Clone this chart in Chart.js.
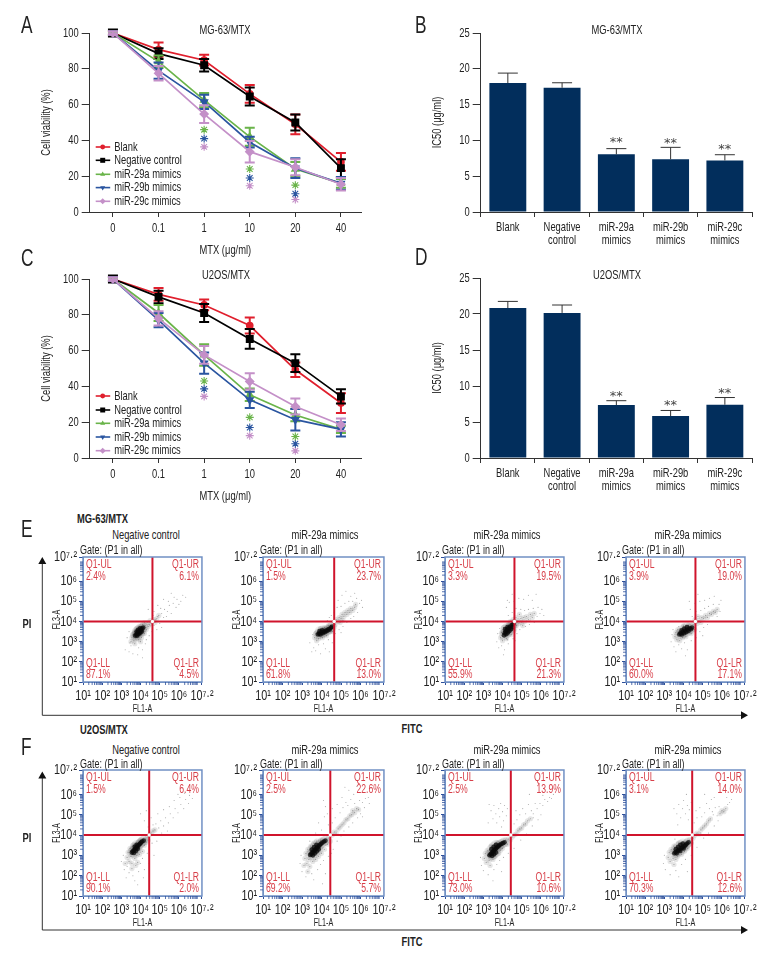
<!DOCTYPE html>
<html>
<head>
<meta charset="utf-8">
<script src="https://cdn.jsdelivr.net/npm/chart.js@4"></script>
<style>
  html, body { margin: 0; padding: 0; background: #fff; }
  #page { position: relative; width: 780px; height: 972px; overflow: hidden; }
  #page canvas { position: absolute; }
  #page svg { position: absolute; left: 0; top: 0; }
  .txt { position: absolute; white-space: nowrap; color: #222; font-family: "Liberation Sans", sans-serif; transform: translateY(-50%) scaleX(0.72); transform-origin: left center; line-height: 1; }
</style>
</head>
<body>
<div id="page">
  <svg width="780" height="972">
    <path d="M42.3 562V715.3H742M42.3 777V930H742" fill="none" stroke="#333" stroke-width="1"/>
    <path d="M42.3 557l-4 7h8zM748 715.3l-7 -4v8zM42.3 771.5l-4 7h8zM748 930l-7 -4v8z" fill="#111"/>
  </svg>
</div>
<script>
const doseLabels = ["0", "0.1", "1", "10", "20", "40"];
const groupNames = ["Blank", "Negative control", "miR-29a mimics", "miR-29b mimics", "miR-29c mimics"];
const barLabels = ["Blank", ["Negative", "control"], ["miR-29a", "mimics"], ["miR-29b", "mimics"], ["miR-29c", "mimics"]];

// panel A
const aBlank = [100, 90.7, 84.8, 66, 49, 28];
const aNeg = [100, 88.5, 82, 64.5, 50, 24.5];
const a29a = [100, 84, 62.5, 42, 24, 16];
const a29b = [100, 79, 61.5, 39, 24.5, 16];
const a29c = [100, 77.5, 54.7, 33.7, 25, 15.5];
const aBlankErr = [1, 4, 3, 5, 5.5, 5];
const aNegErr = [2, 3, 3.5, 5, 4.5, 5];
const a29aErr = [1, 3.5, 4, 5, 4, 2.5];
const a29bErr = [1, 4.5, 4, 3, 5.5, 3.5];
const a29cErr = [1, 4, 5, 6, 4.5, 3.5];
const aStarA = [46, 24, 15];
const aStarB = [41, 19, 10.2];
const aStarC = [36.4, 14.7, 7];

// panel C
const cBlank = [100, 91.4, 85.5, 74, 49.3, 30.7];
const cNeg = [100, 90, 81, 66.5, 53, 34.4];
const c29a = [100, 81, 57.6, 35.3, 24, 16];
const c29b = [100, 77, 53, 32.5, 21.4, 16];
const c29c = [100, 78, 57.6, 42.8, 28.8, 18.6];
const cBlankErr = [1, 3.6, 3, 4.5, 4, 5.5];
const cNegErr = [2, 3.5, 5, 5.5, 5, 4];
const c29aErr = [1, 4.5, 6, 3.5, 3.5, 2];
const c29bErr = [1, 4, 6, 4.5, 6, 4];
const c29cErr = [1, 4, 5, 4.5, 4.5, 3.5];
const cStarA = [43, 22.7, 12];
const cStarB = [38.6, 17, 8];
const cStarC = [34.4, 12.5, 4];
const starDoses = [2, 3, 4];

// panels B and D
const bValues = [18, 17.35, 8.05, 7.36, 7.2];
const bTops = [19.4, 18.05, 8.85, 9.03, 8];
const bStars = [null, null, 10.1, 10, 9.1];
const dValues = [20.83, 20.15, 7.36, 5.83, 7.4];
const dTops = [21.75, 21.25, 7.96, 6.6, 8.4];
const dStars = [null, null, 8.9, 7.7, 9.4];

// flow panels, values are log10 of the FL1-A / FL3-A reading
const flowTicks = [1, 2, 3, 4, 5, 6, 7.2];
const flowTickLabels = ["10¹", "10²", "10³", "10⁴", "10⁵", "10⁶", "10⁷·²"];
const quadNames = ["Q1-UL", "Q1-UR", "Q1-LL", "Q1-LR"];
const flowTitles = ["Negative control", "miR-29a mimics", "miR-29a mimics", "miR-29a mimics"];

const e1Pct = ["2.4%", "6.1%", "87.1%", "4.5%"];
const e2Pct = ["1.5%", "23.7%", "61.8%", "13.0%"];
const e3Pct = ["3.3%", "19.5%", "55.9%", "21.3%"];
const e4Pct = ["3.9%", "19.0%", "60.0%", "17.1%"];
const f1Pct = ["1.5%", "6.4%", "90.1%", "2.0%"];
const f2Pct = ["2.5%", "22.6%", "69.2%", "5.7%"];
const f3Pct = ["2.5%", "13.9%", "73.0%", "10.6%"];
const f4Pct = ["3.1%", "14.0%", "70.3%", "12.6%"];
const eGateX = [4.62, 4.65, 4.62, 4.62];
const fGateX = [4.45, 4.45, 4.43, 4.45];

const e1Core = [[3.72,3.3],[3.78,3.36],[3.84,3.42],[3.9,3.48],[3.96,3.52],[4.02,3.58],[4.08,3.64],[4.14,3.7],[3.82,3.3],[3.9,3.38],[3.98,3.44],[4.06,3.5],[3.8,3.5],[3.88,3.58],[3.98,3.66]];
const e1Mid = [[3.55,3.2],[3.6,3.35],[3.65,3.05],[3.7,3.5],[3.75,3.15],[3.8,3.65],[3.9,3.1],[3.95,3.75],[4.05,3.2],[4.1,3.85],[4.2,3.4],[4.25,3.8],[4.3,3.6],[4.35,3.95],[4.4,3.75],[4.45,3.85],[3.5,3],[4,3],[3.7,2.9],[4.2,3.95],[4.5,4.05],[4.55,3.9],[4.7,4.1],[4.85,4.15],[4.95,4.3],[4.75,3.95]];
const e1Sparse = [[3.2,2.6],[3.4,2.5],[3.5,2.8],[3.6,2.4],[3.9,2.7],[4.1,2.6],[3.3,3.2],[3.4,3.5],[4.1,2.2],[4.3,3.1],[4.6,3.5],[4.7,3.8],[4.8,4.1],[4.65,4.3],[4.9,4.25],[5,3.9],[5.1,4.4],[5.2,4.2],[5.25,4.6],[5.4,4.5],[5.5,4.8],[5.6,4.4],[5.7,4.9],[5.85,4.7],[5.9,5.1],[6.1,5],[6.2,5.3],[6.35,5.2],[4.4,4.6],[4.9,4.8],[5.2,5.1],[5.6,5.4],[4.7,4.5],[5.05,4.65],[5.35,4.25],[5.45,5],[5.75,5.2],[6,4.85],[3.85,2.35],[4.25,2.9],[3.45,2.95],[4.45,3.3],[5.1,3.7],[4.85,3.6]];

const e2Core = [[3.82,3.36],[3.88,3.4],[3.94,3.36],[4,3.46],[4.06,3.42],[4.12,3.5],[4.18,3.48],[4.24,3.56],[4.3,3.54],[4.36,3.62],[4.42,3.6],[4.48,3.7],[4.54,3.74],[3.9,3.52],[4.04,3.56]];
const e2Mid = [[3.65,3.2],[3.7,3.4],[3.75,3.05],[3.85,3.15],[3.95,3.65],[4.05,3.2],[4.15,3.7],[4.25,3.3],[4.35,3.8],[4.55,3.5],[4.6,3.95],[4.7,3.85],[4.75,4.1],[4.85,4],[4.9,4.2],[5,4.15],[5.05,4.35],[5.15,4.25],[5.2,4.45],[5.3,4.35],[5.35,4.55],[5.45,4.45],[5.5,4.65],[5.6,4.55],[5.7,4.7],[5.75,4.85],[4.95,3.95],[5.1,4.05]];
const e2Sparse = [[3.4,2.95],[3.55,3.35],[3.6,2.7],[3.7,2.55],[3.85,2.85],[3.95,2.4],[4.1,2.9],[4.2,2.65],[4.35,3.1],[3.5,2.5],[4.4,4.2],[4.3,4.05],[4.5,4.3],[4.65,4.45],[4.8,4.7],[5,4.75],[5.2,4.9],[5.1,3.75],[5.3,3.95],[5.5,4.15],[5.65,4.25],[5.85,4.45],[5.95,4.9],[6.05,5.05],[5.8,5.15],[5.5,5.25],[5.25,5.5],[5.05,5.3],[4.85,5.05],[6.1,4.7],[4.7,3.4],[4.9,3.6],[5.4,5],[5.6,5],[4.55,2.95],[4.4,2.5],[5.7,5.4],[5,3.45]];

const e3Core = [[4.08,3.32],[4.12,3.42],[4.16,3.5],[4.2,3.38],[4.24,3.58],[4.28,3.46],[4.32,3.66],[4.36,3.54],[4.4,3.74],[4.44,3.62],[4.48,3.82],[4.14,3.62],[4.26,3.72],[4.52,3.72],[4.56,3.88]];
const e3Mid = [[3.9,3.2],[3.95,3.45],[4,3.05],[4.05,3.7],[4.2,3.15],[4.3,3.85],[4.45,3.35],[4.6,3.55],[4.65,3.95],[4.72,3.8],[4.8,4.05],[4.85,3.9],[4.95,4.15],[5,3.95],[5.1,4.2],[5.15,4],[5.25,4.25],[5.35,4.1],[5.45,4.35],[5.55,4.2],[5.65,4.4],[4.55,4.1],[4.7,4.2],[4.88,4.35],[5.05,3.8],[4.4,4]];
const e3Sparse = [[3.7,3],[3.75,3.4],[3.8,2.7],[3.95,2.8],[4.1,2.6],[4.3,2.9],[4.25,3.1],[4.55,3.15],[4.75,3.4],[4.9,3.6],[5.2,3.75],[5.4,3.85],[5.65,3.95],[5.8,4.25],[5.95,4.4],[6.05,4.6],[5.85,4.7],[5.6,4.65],[5.35,4.6],[5.15,4.55],[4.95,4.6],[4.7,4.65],[4.5,4.45],[4.3,4.3],[4.2,4.7],[4.35,4.95],[4.6,5],[4.85,5.15],[5.1,5.1],[5.35,5.3],[4.5,5.35],[4.25,5.05],[5.55,5.05],[6.15,4.3],[4.05,2.35],[3.85,3.65],[5.75,5.35],[4.65,3.05]];

const e4Core = [[3.78,3.36],[3.84,3.42],[3.9,3.36],[3.96,3.48],[4.02,3.42],[4.08,3.54],[4.14,3.48],[4.2,3.6],[4.26,3.54],[4.32,3.66],[4.38,3.62],[4.44,3.7],[3.9,3.56],[4.04,3.64],[4.18,3.72]];
const e4Mid = [[3.55,3.25],[3.6,3.45],[3.65,3.1],[3.7,3.6],[3.8,3.05],[3.95,3.2],[4,3.78],[4.12,3.25],[4.25,3.82],[4.4,3.4],[4.5,3.85],[4.58,3.6],[4.7,3.9],[4.8,4.05],[4.9,3.95],[4.95,4.2],[5.05,4.15],[5.15,4.3],[5.25,4.2],[5.35,4.4],[5.45,4.35],[5.55,4.5],[5.65,4.45],[5.75,4.6],[4.6,4.1],[4.75,4.25]];
const e4Sparse = [[3.35,3],[3.4,3.35],[3.5,2.75],[3.6,2.5],[3.75,2.85],[3.9,2.65],[4.05,2.95],[4.2,2.6],[4.4,3.05],[3.45,3.6],[4.65,3.2],[4.85,3.5],[5.05,3.7],[5.25,3.85],[5.5,4],[5.75,4.25],[5.9,4.5],[5.85,4.85],[5.55,4.85],[5.3,4.75],[5.1,4.65],[4.9,4.55],[4.65,4.5],[4.45,4.25],[4.35,4.6],[4.6,4.9],[4.85,5],[5.1,5.05],[5.35,5.15],[5.6,5.25],[4.3,5],[4.75,5.35],[4.1,2.3],[3.75,3.75],[5.95,5.05],[5,3.3]];

const f1Core = [[3.55,3.14],[3.6,3.2],[3.66,3.26],[3.72,3.32],[3.78,3.38],[3.84,3.44],[3.9,3.5],[3.96,3.56],[4.02,3.62],[4.08,3.68],[4.16,3.72],[3.65,3.12],[3.75,3.22],[3.85,3.32],[3.7,3.42],[3.8,3.52]];
const f1Mid = [[3.3,2.9],[3.35,3.15],[3.4,2.7],[3.45,3.35],[3.5,2.95],[3.55,2.6],[3.62,3.5],[3.7,2.85],[3.8,3],[3.85,2.65],[3.9,3.65],[3.95,3.05],[4,3.75],[4.1,3.2],[4.2,3.5],[4.25,3.8],[4.3,3.65],[4.35,3.9],[4.4,3.75],[3.2,2.6],[3.55,2.35],[3.75,2.5],[4.45,4],[4.55,4.1],[4.65,4.2],[4.75,4.25]];
const f1Sparse = [[3.1,3],[3,2.7],[3.15,2.3],[3.3,2.45],[3.4,2.15],[3.6,2],[3.7,1.75],[3.9,2.2],[4,2.6],[4.1,2.85],[4.2,2.3],[4.35,3.1],[4.15,1.9],[3.85,1.55],[4.6,3.6],[4.85,3.7],[4.65,4.5],[4.4,4.4],[4.2,4.7],[4,5.05],[4.3,5.2],[4.55,4.85],[4.8,4.55],[4.95,4.35],[5.05,4.7],[5.2,4.45],[5.3,4.85],[5.45,4.6],[5.55,5.05],[5.7,4.85],[5.8,5.3],[5.95,5.1],[6.1,5.5],[6.25,5.3],[6.35,5.75],[6.5,5.55],[6.55,5.95],[6.7,5.8],[6.05,5.85],[5.75,5.7],[5.5,5.4],[5.2,5.25],[4.9,5.05],[6.3,6.05],[5.95,6],[5.1,4.1],[5.4,4.2],[3.25,1.9],[4.45,2.6],[4.7,3]];

const f2Core = [[3.42,3.02],[3.48,3.08],[3.54,3.14],[3.6,3.2],[3.66,3.26],[3.72,3.32],[3.78,3.38],[3.84,3.44],[3.9,3.5],[3.96,3.56],[4.04,3.62],[4.12,3.68],[4.2,3.72],[3.55,3],[3.65,3.1],[3.75,3.2],[3.85,3.3],[3.5,3.28],[3.62,3.4],[3.74,3.52]];
const f2Mid = [[3.15,2.85],[3.2,3.1],[3.25,2.6],[3.3,3.3],[3.35,2.8],[3.4,2.45],[3.45,3.45],[3.55,2.7],[3.6,3.6],[3.7,2.8],[3.75,3.7],[3.85,2.95],[3.95,3.75],[4,3.1],[4.15,3.3],[4.3,3.55],[4.35,3.85],[4.45,3.7],[3.1,2.5],[3.3,2.2],[4.55,4],[4.65,4.15],[4.75,4.1],[4.85,4.3],[4.95,4.4],[5.05,4.5],[5.15,4.6],[5.25,4.75],[5.35,4.8],[5.45,4.95],[5.55,5],[5.6,5.2],[5.7,5.1],[5.8,5.3],[5.9,5.25]];
const f2Sparse = [[2.95,3],[2.9,2.6],[3,2.2],[3.2,1.95],[3.5,2.1],[3.6,1.8],[3.8,2.3],[3.95,2.55],[4.1,2.75],[4.2,2.1],[4.35,2.95],[4.05,1.6],[3.4,3.7],[3.7,4.1],[3.85,4.6],[4,4.25],[4.15,4.9],[4.2,5.4],[4.35,4.5],[4.3,5.05],[4.1,5.7],[4.55,4.6],[4.7,4.85],[4.55,5.3],[4.8,5.5],[4.95,5.1],[5.1,5.35],[5.05,5.85],[5.25,5.6],[5.4,6.2],[5.5,5.75],[5.65,6],[5.2,6.35],[5.8,6.4],[5.95,5.7],[6.1,5.6],[6.25,5.8],[6.4,5.85],[6.2,5.35],[6.45,5.55],[4.8,3.7],[5,3.95],[5.15,4.2],[5.4,4.4],[5.6,4.6],[5.85,4.85],[6,5.05],[6.1,4.9],[4.6,3.3],[5.35,5.45],[4.5,3.1],[5.7,5.55]];

const f3Core = [[3.32,3],[3.38,3.06],[3.44,3.12],[3.5,3.18],[3.56,3.24],[3.62,3.3],[3.68,3.36],[3.74,3.42],[3.8,3.46],[3.86,3.52],[3.94,3.56],[4.02,3.6],[4.1,3.64],[3.45,2.98],[3.55,3.06],[3.65,3.14],[3.42,3.3],[3.54,3.42],[3.66,3.52]];
const f3Mid = [[3.05,2.85],[3.1,3.1],[3.15,2.65],[3.2,3.25],[3.3,2.75],[3.35,2.5],[3.4,3.45],[3.5,2.8],[3.6,2.95],[3.7,3.62],[3.8,3.1],[3.9,3.25],[4,3.35],[4.15,3.75],[4.25,3.55],[4.3,3.8],[4.4,3.75],[4.5,3.9],[4.6,4],[4.7,4.05],[4.8,4.2],[4.9,4.3],[5,4.35],[5.1,4.5],[5.2,4.55],[5.3,4.7],[5.45,4.8]];
const f3Sparse = [[2.85,2.9],[2.9,2.5],[3,2.25],[3.25,2.05],[3.55,2.3],[3.7,2.55],[3.85,2.75],[4.05,2.9],[3.95,2.2],[4.3,3.1],[3.5,1.75],[3.25,4.6],[3.4,5.2],[3.5,4.8],[3.55,5.45],[3.65,5.05],[3.7,4.6],[3.8,5.3],[3.85,4.9],[3.9,5.55],[4,5.15],[4.05,4.7],[4.1,5.45],[4.2,4.95],[4.25,5.3],[3.3,5.5],[3.95,4.4],[4.6,4.55],[4.75,4.75],[4.7,5.2],[4.9,5],[5.05,5.3],[5.2,5.05],[5.35,5.5],[5.5,5.2],[5.6,5.05],[5.7,5.55],[5.8,5.3],[5.95,5.55],[6.1,5.45],[6.2,5.75],[6.35,5.65],[6.45,5.85],[6.55,5.8],[6.65,6],[6.1,5.95],[5.4,6],[4.95,3.75],[5.25,4.05],[5.55,4.45],[5.85,4.75],[6,5],[4.6,3.35],[5.6,4.85]];

const f4Core = [[3.52,3.1],[3.58,3.16],[3.64,3.1],[3.7,3.22],[3.76,3.28],[3.82,3.22],[3.88,3.34],[3.94,3.4],[4,3.34],[4.06,3.46],[4.12,3.52],[4.18,3.58],[4.26,3.64],[3.6,3.3],[3.72,3.42],[3.84,3.52],[3.96,3.58]];
const f4Mid = [[3.2,2.9],[3.25,3.15],[3.3,2.7],[3.35,3.3],[3.45,2.85],[3.5,2.55],[3.5,3.45],[3.6,2.8],[3.7,2.95],[3.75,3.6],[3.9,3.05],[4.05,3.2],[4.2,3.35],[4.3,3.75],[4.4,3.6],[4.5,3.85],[4.6,4],[4.7,4.1],[4.8,4.05],[4.9,4.25],[5,4.35],[5.1,4.45],[5.2,4.55],[5.3,4.7],[5.4,4.8],[5.9,5.05],[6,5.2],[6.1,5.15],[6.2,5.3]];
const f4Sparse = [[3,3],[2.95,2.6],[3.05,2.3],[3.3,2.05],[3.6,2.25],[3.75,1.95],[3.9,2.55],[4.1,2.8],[4.2,2.2],[4.4,3],[3.55,3.8],[3.7,4.5],[3.5,5.3],[3.65,5.05],[3.75,5.5],[3.85,4.85],[3.95,5.3],[4,5.7],[4.1,5.05],[4.2,5.45],[4.25,4.75],[4.3,5.25],[4.4,5.6],[4.15,6],[4.55,4.6],[4.7,4.85],[4.65,5.2],[4.85,5.35],[4.95,4.9],[5.1,5.1],[5.2,5.55],[5.35,5.3],[5.5,5.15],[5.55,5],[5.65,5.35],[5.75,4.95],[5.85,5.4],[6.3,5.5],[6.4,5.6],[6.5,5.75],[6.25,5.85],[5.6,5.85],[5.05,3.85],[5.3,4.1],[5.6,4.45],[5.8,4.7],[4.7,3.4],[5.45,5.75],[5.1,6],[4.9,4.1]];

const fontFamily = '"Liberation Sans", sans-serif';
const narrowScale = 0.72;
const inkColor = "#333";
const groupColors = ["#e01f2d", "#000000", "#6ab44a", "#2a55a0", "#c490c8"];
const groupMarks = [
  { pointStyle: "circle", radius: 3, rotation: 0 },
  { pointStyle: "rect", radius: 4.4, rotation: 0 },
  { pointStyle: "triangle", radius: 3.6, rotation: 0 },
  { pointStyle: "triangle", radius: 3.6, rotation: 180 },
  { pointStyle: "rectRot", radius: 3.8, rotation: 0 },
];

const page = document.getElementById("page");

const addText = function (text, x, y, size, opts = {}) {
  const el = document.createElement("div");
  el.className = "txt";
  el.textContent = text;
  el.style.left = `${x}px`;
  el.style.top = `${y}px`;
  el.style.fontSize = `${size}px`;
  if (opts.bold) el.style.fontWeight = "bold";
  if (opts.center) {
    el.style.transform = `translate(-50%, -50%) scaleX(${narrowScale})`;
    el.style.transformOrigin = "center";
  }
  page.appendChild(el);
};

// puts a canvas so that the chart area lands on the given page box
const makeCanvas = function (left, top, right, bottom, m) {
  const c = document.createElement("canvas");
  c.width = right - left + m.l + m.r;
  c.height = bottom - top + m.t + m.b;
  c.style.left = `${left - m.l}px`;
  c.style.top = `${top - m.t}px`;
  c.style.width = `${c.width}px`;
  c.style.height = `${c.height}px`;
  page.appendChild(c);
  // the reference type is condensed and no condensed face is installed
  const ctx = c.getContext("2d");
  const rawText = ctx.fillText.bind(ctx);
  ctx.rawText = rawText;
  ctx.fillText = function (text, x, y) {
    ctx.save();
    ctx.translate(x, y);
    ctx.scale(narrowScale, 1);
    rawText(text, 0, 0);
    ctx.restore();
  };
  return c;
};

const errorBars = {
  id: "errorBars",
  afterDatasetDraw(chart, args) {
    const ds = chart.data.datasets[args.index];
    if (!ds.errs && !ds.tops) return;
    const ctx = chart.ctx;
    const y = chart.scales.y;
    ctx.save();
    ctx.strokeStyle = ds.errs ? ds.borderColor : inkColor;
    ctx.lineWidth = ds.errs ? 2 : 1;
    args.meta.data.forEach((el, i) => {
      const hi = y.getPixelForValue(ds.errs ? ds.data[i].y + ds.errs[i] : ds.tops[i]);
      const lo = ds.errs ? y.getPixelForValue(ds.data[i].y - ds.errs[i]) : el.y;
      const cap = ds.errs ? 5 : 10;
      ctx.beginPath();
      ctx.moveTo(el.x, lo);
      ctx.lineTo(el.x, hi);
      ctx.moveTo(el.x - cap, hi);
      ctx.lineTo(el.x + cap, hi);
      if (ds.errs) {
        ctx.moveTo(el.x - cap, lo);
        ctx.lineTo(el.x + cap, lo);
      }
      ctx.stroke();
    });
    ctx.restore();
  },
};

const groupLegend = {
  id: "groupLegend",
  afterDraw(chart, args, opts) {
    const ctx = chart.ctx;
    const area = chart.chartArea;
    ctx.save();
    ctx.font = `13px ${fontFamily}`;
    ctx.textBaseline = "middle";
    groupNames.forEach((name, i) => {
      const y = area.top + opts.rows[i];
      ctx.strokeStyle = groupColors[i];
      ctx.fillStyle = groupColors[i];
      ctx.lineWidth = 1.6;
      ctx.beginPath();
      ctx.moveTo(area.left + 6, y);
      ctx.lineTo(area.left + 20.5, y);
      ctx.stroke();
      Chart.helpers.drawPoint(ctx, { pointStyle: groupMarks[i].pointStyle, radius: groupMarks[i].radius * 0.8, rotation: groupMarks[i].rotation }, area.left + 13, y);
      ctx.fillStyle = "#222";
      ctx.fillText(name, area.left + 24.5, y);
    });
    ctx.restore();
  },
};

const doubleStars = {
  id: "doubleStars",
  afterDraw(chart, args, opts) {
    const ctx = chart.ctx;
    const meta = chart.getDatasetMeta(0);
    ctx.save();
    ctx.font = `13px "DejaVu Sans", sans-serif`;
    ctx.fillStyle = "#444";
    ctx.textAlign = "center";
    ctx.textBaseline = "middle";
    opts.values.forEach((v, i) => {
      if (v === null) return;
      ctx.rawText("**", meta.data[i].x, chart.scales.y.getPixelForValue(v) + 3);
    });
    ctx.restore();
  },
};

const flowDecor = {
  id: "flowDecor",
  afterDraw(chart, args, opts) {
    const ctx = chart.ctx;
    const a = chart.chartArea;
    const { x, y } = chart.scales;
    ctx.save();
    ctx.strokeStyle = "#7090c4";
    ctx.lineWidth = 1.5;
    ctx.strokeRect(a.left, a.top, a.right - a.left, a.bottom - a.top);
    // minor log ticks
    ctx.strokeStyle = "#2d4f9a";
    ctx.lineWidth = 0.8;
    ctx.beginPath();
    for (let d = 1; d < 7.2; d++) {
      for (let k = 2; k < 10; k++) {
        const v = d + Math.log10(k);
        if (v > 7.2) continue;
        ctx.moveTo(x.getPixelForValue(v), a.bottom);
        ctx.lineTo(x.getPixelForValue(v), a.bottom + 3);
        ctx.moveTo(a.left, y.getPixelForValue(v));
        ctx.lineTo(a.left - 3, y.getPixelForValue(v));
      }
    }
    ctx.stroke();
    ctx.fillStyle = "#d8404a";
    ctx.font = `12px ${fontFamily}`;
    ctx.textBaseline = "middle";
    ctx.textAlign = "left";
    ctx.fillText(quadNames[0], a.left + 3, a.top + 8);
    ctx.fillText(opts.pct[0], a.left + 3, a.top + 19.5);
    ctx.fillText(quadNames[2], a.left + 3, a.bottom - 18.5);
    ctx.fillText(opts.pct[2], a.left + 3, a.bottom - 7);
    ctx.textAlign = "right";
    ctx.fillText(quadNames[1], a.right - 3, a.top + 8);
    ctx.fillText(opts.pct[1], a.right - 3, a.top + 19.5);
    ctx.fillText(quadNames[3], a.right - 3, a.bottom - 18.5);
    ctx.fillText(opts.pct[3], a.right - 3, a.bottom - 7);
    ctx.restore();
  },
};

const lineMargins = { l: 59.7, t: 12, r: 20, b: 48 };

const baseY = function (max, step, title, m) {
  return {
    min: 0,
    max,
    afterFit: (s) => { s.width = m.l; },
    ticks: { stepSize: step, padding: 3, color: "#222", font: { family: fontFamily, size: 13 } },
    grid: { drawOnChartArea: false, tickLength: 8, tickColor: inkColor },
    border: { color: inkColor },
    title: { display: true, text: title, color: "#222", padding: { top: 9, bottom: 0 }, font: { family: fontFamily, size: 13 } },
  };
};

const drawViability = function (box, series, errs, stars, rows) {
  const canvas = makeCanvas(box[0], box[1], box[2], box[3], lineMargins);
  const lines = series.map((vals, i) => ({
    label: groupNames[i],
    data: vals.map((v, k) => ({ x: k, y: v })),
    errs: errs[i],
    borderColor: groupColors[i],
    backgroundColor: groupColors[i],
    borderWidth: 1.7,
    pointStyle: groupMarks[i].pointStyle,
    pointRadius: groupMarks[i].radius,
    pointRotation: groupMarks[i].rotation,
    order: 10 - i,
  }));
  const starSets = stars.map((vals, i) => ({
    data: vals.map((v, k) => ({ x: starDoses[k], y: v })),
    showLine: false,
    borderColor: groupColors[i + 2],
    backgroundColor: groupColors[i + 2],
    borderWidth: 1.1,
    pointStyle: "star",
    pointRadius: 4,
    order: 0,
  }));
  new Chart(canvas, {
    type: "line",
    data: { datasets: [...lines, ...starSets] },
    plugins: [errorBars, groupLegend],
    options: {
      responsive: false,
      animation: false,
      devicePixelRatio: 1,
      layout: { padding: { top: lineMargins.t, right: lineMargins.r } },
      plugins: { legend: { display: false }, tooltip: { enabled: false }, groupLegend: { rows } },
      scales: {
        x: {
          type: "linear",
          min: -0.51,
          max: 5.44,
          afterFit: (s) => { s.height = lineMargins.b; },
          afterBuildTicks: (s) => { s.ticks = doseLabels.map((d, i) => ({ value: i })); },
          ticks: {
            autoSkip: false,
            maxRotation: 0,
            padding: 4,
            color: "#222",
            font: { family: fontFamily, size: 13 },
            callback: (v) => doseLabels[v],
          },
          grid: { drawOnChartArea: false, tickLength: 5, tickColor: inkColor },
          border: { color: inkColor },
          title: { display: true, text: "MTX (μg/ml)", color: "#222", padding: { top: 0, bottom: 2 }, font: { family: fontFamily, size: 13 } },
        },
        y: baseY(100, 20, "Cell viability (%)", lineMargins),
      },
    },
  });
};

const drawIc50 = function (box, values, tops, stars) {
  const canvas = makeCanvas(box[0], box[1], box[2], box[3], lineMargins);
  new Chart(canvas, {
    type: "bar",
    data: {
      labels: barLabels,
      datasets: [{ data: values, tops, backgroundColor: "#022e5c", barPercentage: 0.68, categoryPercentage: 1 }],
    },
    plugins: [errorBars, doubleStars],
    options: {
      responsive: false,
      animation: false,
      devicePixelRatio: 1,
      layout: { padding: { top: lineMargins.t, right: lineMargins.r } },
      plugins: { legend: { display: false }, tooltip: { enabled: false }, doubleStars: { values: stars } },
      scales: {
        x: {
          afterFit: (s) => { s.height = lineMargins.b; },
          ticks: { autoSkip: false, maxRotation: 0, padding: 4, color: "#222", font: { family: fontFamily, size: 13, lineHeight: 1 } },
          grid: { drawOnChartArea: false, tickLength: 5, tickColor: inkColor },
          border: { color: inkColor },
        },
        y: baseY(25, 5, "IC50 (μg/ml)", lineMargins),
      },
    },
  });
};

const flowMargins = { l: 34, t: 10, r: 16, b: 34 };

const toPoints = (pairs) => pairs.map((p) => ({ x: p[0], y: p[1] }));

const drawFlow = function (box, gateX, pct, core, mid, sparse) {
  const canvas = makeCanvas(box[0], box[1], box[2], box[3], flowMargins);
  const cloud = (pairs, radius, color, order) => ({ data: toPoints(pairs), pointRadius: radius, backgroundColor: color, borderWidth: 0, order });
  const gate = (pts, order) => ({ data: toPoints(pts), showLine: true, pointRadius: 0, borderColor: "#d0142c", borderWidth: 2, order });
  new Chart(canvas, {
    type: "scatter",
    data: {
      datasets: [
        cloud(sparse, 0.55, "rgba(90,90,90,0.5)", 9),
        cloud(mid, 2.6, "rgba(90,90,90,0.15)", 8),
        cloud(mid, 0.6, "rgba(70,70,70,0.45)", 7),
        cloud(core, 5, "rgba(60,60,60,0.1)", 6),
        cloud(core, 2.4, "rgba(10,10,10,0.75)", 5),
        gate([[gateX, 1], [gateX, 7.2]], 2),
        gate([[1, 4], [7.2, 4]], 1),
        { data: [{ x: gateX, y: 4 }], pointRadius: 1.7, backgroundColor: "#fff", borderWidth: 0, order: 0 },
      ],
    },
    plugins: [flowDecor],
    options: {
      responsive: false,
      animation: false,
      devicePixelRatio: 1,
      layout: { padding: { top: flowMargins.t, right: flowMargins.r } },
      plugins: { legend: { display: false }, tooltip: { enabled: false }, flowDecor: { pct } },
      scales: {
        x: {
          type: "linear",
          min: 1,
          max: 7.2,
          afterFit: (s) => { s.height = flowMargins.b; },
          afterBuildTicks: (s) => { s.ticks = flowTicks.map((v) => ({ value: v })); },
          ticks: { autoSkip: false, maxRotation: 0, padding: 2, color: "#222", font: { family: fontFamily, size: 15 }, callback: (v) => flowTickLabels[flowTicks.indexOf(v)] },
          grid: { drawOnChartArea: false, tickLength: 3, tickColor: "#2d4f9a" },
          border: { color: "#7090c4" },
          title: { display: true, text: "FL1-A", color: "#222", padding: { top: 0, bottom: 1 }, font: { family: fontFamily, size: 10 } },
        },
        y: {
          min: 1,
          max: 7.2,
          afterFit: (s) => { s.width = flowMargins.l; },
          afterBuildTicks: (s) => { s.ticks = flowTicks.map((v) => ({ value: v })); },
          ticks: { autoSkip: false, padding: 2, color: "#222", font: { family: fontFamily, size: 15 }, callback: (v) => flowTickLabels[flowTicks.indexOf(v)] },
          grid: { drawOnChartArea: false, tickLength: 4, tickColor: "#2d4f9a" },
          border: { color: "#7090c4" },
          title: { display: true, text: "FL3-A", color: "#222", padding: { top: 2, bottom: 0 }, font: { family: fontFamily, size: 10 } },
        },
      },
    },
  });
};

drawViability([89.7, 32.7, 361, 212.3], [aBlank, aNeg, a29a, a29b, a29c], [aBlankErr, aNegErr, a29aErr, a29bErr, a29cErr], [aStarA, aStarB, aStarC], [114, 127.3, 141.3, 154.6, 168.3]);
drawViability([89.7, 279, 361, 458.3], [cBlank, cNeg, c29a, c29b, c29c], [cBlankErr, cNegErr, c29aErr, c29bErr, c29cErr], [cStarA, cStarB, cStarC], [117, 131, 144.3, 158, 171.7]);
drawIc50([480.7, 32.7, 752.7, 212.3], bValues, bTops, bStars);
drawIc50([480.7, 278.3, 752.7, 458.3], dValues, dTops, dStars);

const eTop = 556, eBottom = 682.5, fTop = 768.5, fBottom = 896;
drawFlow([83.3, eTop, 204.7, eBottom], eGateX[0], e1Pct, e1Core, e1Mid, e1Sparse);
drawFlow([263, eTop, 386, eBottom], eGateX[1], e2Pct, e2Core, e2Mid, e2Sparse);
drawFlow([445, eTop, 566.7, eBottom], eGateX[2], e3Pct, e3Core, e3Mid, e3Sparse);
drawFlow([625.7, eTop, 747, eBottom], eGateX[3], e4Pct, e4Core, e4Mid, e4Sparse);
drawFlow([83.3, fTop, 204.7, fBottom], fGateX[0], f1Pct, f1Core, f1Mid, f1Sparse);
drawFlow([263, fTop, 386, fBottom], fGateX[1], f2Pct, f2Core, f2Mid, f2Sparse);
drawFlow([445, fTop, 566.7, fBottom], fGateX[2], f3Pct, f3Core, f3Mid, f3Sparse);
drawFlow([625.7, fTop, 747, fBottom], fGateX[3], f4Pct, f4Core, f4Mid, f4Sparse);

// panel letters, panel titles and the big axis names
addText("A", 21, 25, 24);
addText("B", 415, 25, 24);
addText("C", 21, 258, 24);
addText("D", 415, 257, 24);
addText("E", 21, 529, 24);
addText("F", 21, 747, 24);
addText("MG-63/MTX", 225, 28.7, 13, { center: true });
addText("MG-63/MTX", 616.7, 28.7, 13, { center: true });
addText("U2OS/MTX", 225.7, 274, 13, { center: true });
addText("U2OS/MTX", 616.7, 274, 13, { center: true });
addText("MG-63/MTX", 76.7, 518.3, 13, { bold: true });
addText("U2OS/MTX", 80, 729, 13, { bold: true });
addText("PI", 27, 623, 13, { bold: true, center: true });
addText("PI", 27, 837, 13, { bold: true, center: true });
addText("FITC", 412, 728, 13, { bold: true, center: true });
addText("FITC", 412, 941, 13, { bold: true, center: true });

const flowTitleX = [145.7, 325.3, 507.3, 688.3];
const flowGateLeft = [80, 259.7, 441.7, 622.3];
flowTitles.forEach((t, i) => {
  addText(t, flowTitleX[i], 534.3, 13, { center: true });
  addText("Gate: (P1 in all)", flowGateLeft[i], 550, 12.5);
  addText(t, flowTitleX[i], 749, 13, { center: true });
  addText("Gate: (P1 in all)", flowGateLeft[i], 764.3, 12.5);
});
</script>
</body>
</html>
